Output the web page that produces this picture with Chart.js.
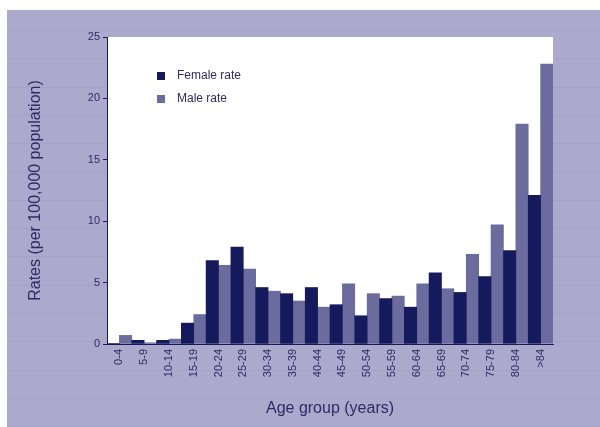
<!DOCTYPE html>
<html lang="en">
<head>
  <meta charset="UTF-8">
  <title>Rates by age group</title>
  <style>
    html, body { margin: 0; padding: 0; background: white; }
    #wrap { width: 600px; height: 427px; }
  </style>
  <script src="https://cdn.jsdelivr.net/npm/chart.js@4/dist/chart.umd.js"></script>
</head>
<body>
  <div id="wrap"><canvas id="rateChart" width="600" height="427"></canvas></div>
  <script>
    const ageGroups = ['0-4','5-9','10-14','15-19','20-24','25-29','30-34','35-39','40-44','45-49',
      '50-54','55-59','60-64','65-69','70-74','75-79','80-84','>84'];
    const femaleRate = [0.05,0.3,0.3,1.7,6.8,7.9,4.6,4.1,4.6,3.2,2.3,3.7,3.0,5.8,4.2,5.5,7.6,12.1];
    const maleRate   = [0.7,0.1,0.4,2.4,6.4,6.1,4.3,3.5,3.0,4.9,4.1,3.9,4.9,4.5,7.3,9.7,17.9,22.8];
    const yTicks = [0,5,10,15,20,25];

    const navy = '#141a5c', grey = '#6c6b9e', lav = '#aba9cc', txt = '#2c2b66';
    const FONT = '"Liberation Sans", Arial, sans-serif';

    // lavender panel with faint stripes, white plot area, hand-drawn legend
    const backdrop = {
      id: 'backdrop',
      beforeDraw(c) {
        const g = c.ctx, a = c.chartArea;
        g.save();
        g.fillStyle = 'white'; g.fillRect(0, 0, c.width, c.height);
        g.fillStyle = lav; g.fillRect(7, 10, c.width - 7, c.height - 10);
        g.strokeStyle = 'rgba(150,148,190,0.35)'; g.lineWidth = 1;
        for (let y = 30; y < c.height; y += 28.3) {
          g.beginPath(); g.moveTo(7, Math.round(y) + 0.5); g.lineTo(c.width, Math.round(y) + 0.5); g.stroke();
        }
        g.fillStyle = 'white'; g.fillRect(a.left, a.top, a.right - a.left, a.bottom - a.top);
        g.restore();
      },
      afterDraw(c) {
        const g = c.ctx;
        g.save();
        g.font = '12px ' + FONT; g.textBaseline = 'middle';
        c.data.datasets.forEach((ds, i) => {
          const y = 76 + i * 23;
          g.fillStyle = ds.backgroundColor; g.fillRect(157, y - 4, 8, 8);
          g.fillStyle = txt; g.fillText(ds.label, 177, y);
        });
        g.restore();
      }
    };

    new Chart(document.getElementById('rateChart'), {
      type: 'bar',
      data: {
        labels: ageGroups,
        datasets: [
          { label: 'Female rate', data: femaleRate, backgroundColor: navy },
          { label: 'Male rate', data: maleRate, backgroundColor: grey }
        ]
      },
      options: {
        responsive: false, animation: false,
        barPercentage: 1, categoryPercentage: 1,
        layout: { padding: { left: 7, top: 37, right: 47, bottom: 0 } },
        plugins: { legend: { display: false }, tooltip: { enabled: false } },
        scales: {
          x: {
            afterFit(s) { s.height = 83; },
            grid: { display: false, drawTicks: false },
            border: { display: true, color: navy, width: 1 },
            ticks: { color: txt, font: { family: FONT, size: 11 }, minRotation: 90, maxRotation: 90, padding: 5, autoSkip: false },
            title: { display: true, text: 'Age group (years)', color: txt, font: { family: FONT, size: 16 }, padding: { top: 0, bottom: 9 } }
          },
          y: {
            min: 0, max: 25,
            afterFit(s) { s.width = 100; },
            afterBuildTicks(s) { s.ticks = yTicks.map(v => ({ value: v })); },
            grid: { drawOnChartArea: false, tickLength: 4, color: navy },
            border: { display: true, color: navy, width: 1 },
            ticks: { color: txt, font: { family: FONT, size: 11 }, padding: 3 },
            title: { display: true, text: 'Rates (per 100,000 population)', color: txt, font: { family: FONT, size: 16 }, padding: { top: 19, bottom: 0 } }
          }
        }
      },
      plugins: [backdrop]
    });
  </script>
</body>
</html>
